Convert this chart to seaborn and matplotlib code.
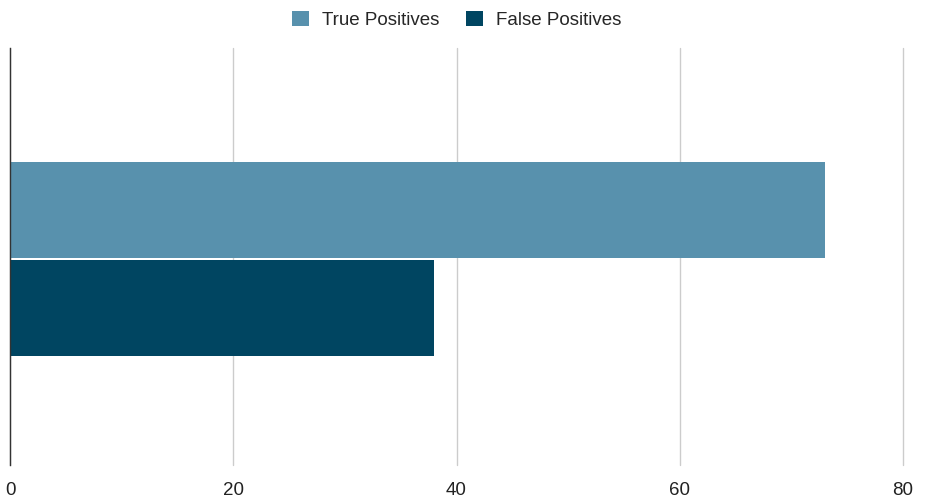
import matplotlib
matplotlib.use("Agg")
import matplotlib.pyplot as plt
import seaborn as sns
import pandas as pd

# data
category = [""]
series = ["True Positives", "False Positives"]
values = [73, 38]
colors = ["#5891ad", "#004561"]
xticks = [0, 20, 40, 60, 80]

df = pd.DataFrame({
    "cat": category * len(series),
    "series": series,
    "value": values,
})

sns.set_style("white")
plt.rcParams["font.family"] = ["Liberation Sans", "DejaVu Sans"]

fig = plt.figure(figsize=(9.28, 5.03), dpi=100)
ax = fig.add_axes([10 / 928, 38 / 503, 893 / 928, 417 / 503])

sns.barplot(data=df, y="cat", x="value", hue="series", palette=colors,
            width=0.47, gap=0.02, orient="h", ax=ax, saturation=1,
            linewidth=0)

ax.set_xlim(0, 80)
ax.set_ylim(0.495, -0.505)
ax.set_xticks(xticks)
ax.set_xticklabels([str(t) for t in xticks], fontsize=13.5, color="#222222")
ax.set_yticks([])
ax.set_xlabel("")
ax.set_ylabel("")
ax.tick_params(axis="x", length=0, pad=12)
ax.grid(axis="x", color="#cccccc", linewidth=1)
for gl in ax.get_xgridlines():
    gl.set_clip_on(False)
ax.set_axisbelow(True)
for s in ["top", "right", "bottom"]:
    ax.spines[s].set_visible(False)
ax.spines["left"].set_color("#333333")
ax.spines["left"].set_linewidth(1)
ax.spines["left"].set_zorder(5)

handles, labels = ax.get_legend_handles_labels()
ax.get_legend().remove()
fig.legend(handles, labels, loc="upper center", bbox_to_anchor=(0.492, 1.012),
           ncol=2, frameon=False, fontsize=13.5, handlelength=0.9,
           handleheight=0.9, handletextpad=0.7, columnspacing=1.4)

fig.savefig("out.png", dpi=100)
